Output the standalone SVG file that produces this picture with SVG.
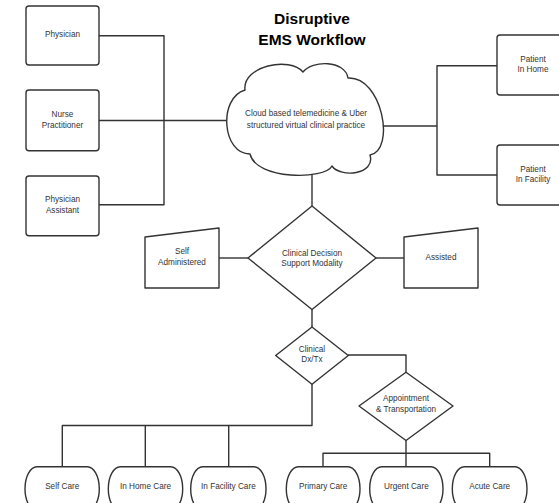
<svg xmlns="http://www.w3.org/2000/svg" width="559" height="503" viewBox="0 0 559 503">
<style>
.shape{fill:#fff;stroke:#333;stroke-width:1.4;stroke-linejoin:round}
.conn{fill:none;stroke:#333;stroke-width:1.4;stroke-linejoin:round}
.t{font-family:"Liberation Sans",Arial,sans-serif;font-size:8.2px;fill:#333;text-anchor:middle}
.title{font-family:"Liberation Sans",Arial,sans-serif;font-size:15.5px;font-weight:bold;fill:#000;text-anchor:middle}
</style>
<rect width="559" height="503" fill="#fff"/>
<g id="title">
<text class="title" x="312" y="24">Disruptive</text>
<text class="title" x="312" y="44.5">EMS Workflow</text>
</g>
<g id="connectors">
<path class="conn" d="M99,35.7 H164 V204.7 H99"/>
<path class="conn" d="M99,120.5 H228"/>
<path class="conn" d="M381,126 H437"/>
<path class="conn" d="M497,65.7 H437 V175 H497"/>
<path class="conn" d="M312,172 V206"/>
<path class="conn" d="M219,258 H248"/>
<path class="conn" d="M376,258 H404"/>
<path class="conn" d="M312,309 V327"/>
<path class="conn" d="M348,355 H406 V372"/>
<path class="conn" d="M312,384 V425.5 H62.3 V466.7"/>
<path class="conn" d="M145.3,425.5 V466.7"/>
<path class="conn" d="M228.7,425.5 V466.7"/>
<path class="conn" d="M406,440 V466.7"/>
<path class="conn" d="M323,466.7 V453.3 H489.7 V466.7"/>
</g>
<g id="physician">
<rect class="shape" x="26" y="6" width="73" height="59" rx="3"/>
<text class="t" x="62.5" y="37">Physician</text>
</g>
<g id="nurse-practitioner">
<rect class="shape" x="26" y="90" width="73" height="60.7" rx="3"/>
<text class="t" x="62.5" y="117">Nurse</text>
<text class="t" x="62.5" y="128">Practitioner</text>
</g>
<g id="physician-assistant">
<rect class="shape" x="26" y="176" width="73" height="59.7" rx="3"/>
<text class="t" x="62.5" y="202">Physician</text>
<text class="t" x="62.5" y="213">Assistant</text>
</g>
<g id="cloud">
<path class="shape" d="M250,154 C222,154 218,98 245,90 C242,66 290,56 303,72 C312,60 345,60 348,78 C382,76 396,150 370,155 C376,175 340,178 332,166 C325,180 256,180 250,154 Z"/>
<text class="t" x="306" y="116">Cloud based telemedicine &amp; Uber</text>
<text class="t" x="306" y="128">structured virtual clinical practice</text>
</g>
<g id="patient-in-home">
<rect class="shape" x="497" y="35" width="73" height="60" rx="3"/>
<text class="t" x="533" y="62">Patient</text>
<text class="t" x="533" y="72">In Home</text>
</g>
<g id="patient-in-facility">
<rect class="shape" x="497" y="145" width="73" height="60" rx="3"/>
<text class="t" x="533" y="172">Patient</text>
<text class="t" x="533" y="182">In Facility</text>
</g>
<g id="clinical-decision">
<polygon class="shape" points="312,206 376,258 312,309.5 248,258"/>
<text class="t" x="312" y="255.7">Clinical Decision</text>
<text class="t" x="312" y="266">Support Modality</text>
</g>
<g id="self-administered">
<polygon class="shape" points="145,237 219,228 219,288 145,288"/>
<text class="t" x="182" y="254">Self</text>
<text class="t" x="182" y="264.7">Administered</text>
</g>
<g id="assisted">
<polygon class="shape" points="404,237 478,228 478,288 404,288"/>
<text class="t" x="441" y="259.7">Assisted</text>
</g>
<g id="clinical-dx-tx">
<polygon class="shape" points="312,327 348.3,355.5 312,384.3 275.7,355.5"/>
<text class="t" x="312" y="352">Clinical</text>
<text class="t" x="312" y="362.3">Dx/Tx</text>
</g>
<g id="appointment">
<polygon class="shape" points="406,372.3 453,406 406,440.5 359,406"/>
<text class="t" x="406" y="400.7">Appointment</text>
<text class="t" x="406" y="412">&amp; Transportation</text>
</g>
<g id="self-care">
<rect class="shape" x="25" y="466.7" width="74.3" height="44" rx="12" ry="22"/>
<text class="t" x="62.2" y="489">Self Care</text>
</g>
<g id="in-home-care">
<rect class="shape" x="108.3" y="466.7" width="74.4" height="44" rx="12" ry="22"/>
<text class="t" x="145.5" y="489">In Home Care</text>
</g>
<g id="in-facility-care">
<rect class="shape" x="190.7" y="466.7" width="75.3" height="44" rx="12" ry="22"/>
<text class="t" x="228.4" y="489">In Facility Care</text>
</g>
<g id="primary-care">
<rect class="shape" x="286.3" y="466.7" width="73.7" height="44" rx="12" ry="22"/>
<text class="t" x="323.2" y="489">Primary Care</text>
</g>
<g id="urgent-care">
<rect class="shape" x="369.7" y="466.7" width="73.3" height="44" rx="12" ry="22"/>
<text class="t" x="406.4" y="489">Urgent Care</text>
</g>
<g id="acute-care">
<rect class="shape" x="452.3" y="466.7" width="74.7" height="44" rx="12" ry="22"/>
<text class="t" x="489.7" y="489">Acute Care</text>
</g>
</svg>
